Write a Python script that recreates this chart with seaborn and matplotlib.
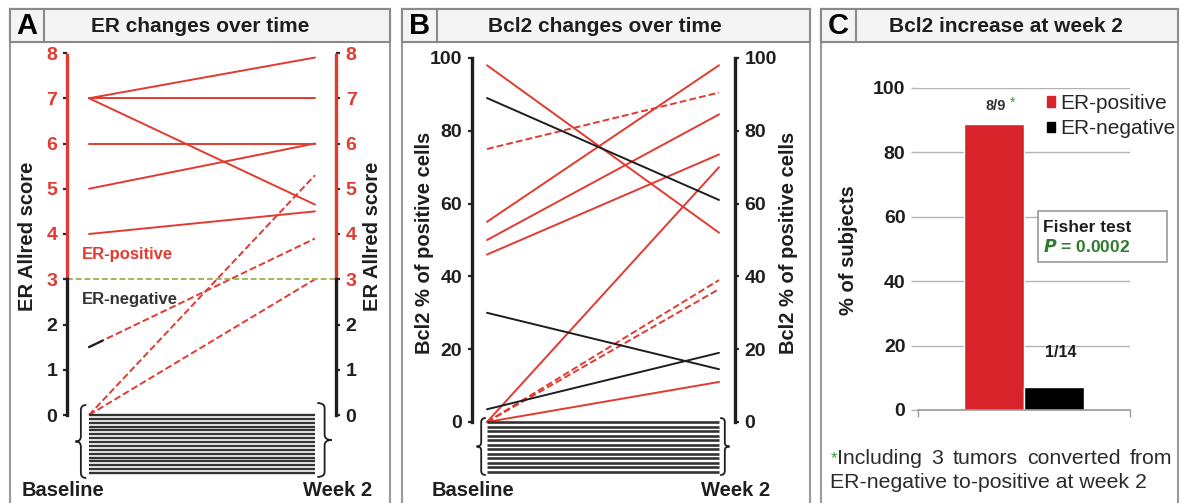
import numpy as np
import pandas as pd
import seaborn as sns
import matplotlib.pyplot as plt
from matplotlib.patches import Rectangle, Patch, PathPatch
from matplotlib.path import Path

# <-----------------------------------------------------------------------------> datos
times = [0, 1]  # Baseline, Week 2

# panel A: ER Allred score
er_pos_base = [7, 7, 7, 6, 5, 4]
er_pos_wk2 = [7.9, 7, 4.65, 6, 6, 4.5]
er_conv_base = [0, 1.5, 0]
er_conv_wk2 = [5.3, 3.9, 3.0]
n_er_zero = 16

# panel B: Bcl2 % positive cells
bcl_pos_base = [98, 55, 50, 46, 0, 0]
bcl_pos_wk2 = [52, 98, 84.5, 73.5, 70, 11]
bcl_conv_base = [75, 0, 0]
bcl_conv_wk2 = [90.5, 39, 36.5]
bcl_neg_base = [89, 30, 3.5]
bcl_neg_wk2 = [61, 14.5, 19]
n_bcl_zero = 12

# panel C
status = ['ER-positive', 'ER-negative']
pct_increase = [88.9, 7.1]
frac_labels = ['8/9', '1/14']

RED = '#e23a30'
BAR_RED = '#d9232a'
GREEN = '#2f7a2f'
DARK = '#1e1e1e'
W, H = 1180, 503

sns.set_theme(style='ticks')
plt.rcParams['font.family'] = ['Liberation Sans', 'DejaVu Sans']

fig = plt.figure(figsize=(W / 100, H / 100), dpi=100)


def axes_px(x0, y0, x1, y1):
    return fig.add_axes([x0 / W, 1 - y1 / H, (x1 - x0) / W, (y1 - y0) / H])


def ftext(x, y, s, **kw):
    return fig.text(x / W, 1 - y / H, s, **kw)


def frect(x0, y0, x1, y1, **kw):
    r = Rectangle((x0 / W, 1 - y1 / H), (x1 - x0) / W, (y1 - y0) / H,
                  transform=fig.transFigure, **kw)
    fig.add_artist(r)
    return r


def brace(ax, x_back, x_tip, y_bot, y_top):
    ym = (y_bot + y_top) / 2
    xm = (x_back + x_tip) / 2
    dy = (y_top - y_bot) * 0.07
    verts = [(x_back, y_top), (xm, y_top), (xm, y_top - dy),
             (xm, ym + dy), (xm, ym), (x_tip, ym),
             (xm, ym), (xm, ym - dy),
             (xm, y_bot + dy), (xm, y_bot), (x_back, y_bot)]
    codes = [Path.MOVETO, Path.CURVE3, Path.CURVE3, Path.LINETO,
             Path.CURVE3, Path.CURVE3, Path.CURVE3, Path.CURVE3,
             Path.LINETO, Path.CURVE3, Path.CURVE3]
    ax.add_patch(PathPatch(Path(verts, codes), fc='none', ec=DARK, lw=1.3, clip_on=False))


def long_df(groups):
    rows = []
    sid = 0
    for name, base, wk2 in groups:
        for b, w in zip(base, wk2):
            rows.append((sid, times[0], b, name))
            rows.append((sid, times[1], w, name))
            sid += 1
    return pd.DataFrame(rows, columns=['subject', 'time', 'value', 'group'])


# <-----------------------------------------------------------------------------> marcos de paneles
panels = [(10, 390, 'A', 'ER changes over time', 200, 44),
          (402, 810, 'B', 'Bcl2 changes over time', 605, 437),
          (821, 1178, 'C', 'Bcl2 increase at week 2', 1006, 856)]
for x0, x1, letter, title, tx, lx in panels:
    frect(x0, 9, x1, 510, fc='white', ec='#9a9a9a', lw=1.5, zorder=0)
    frect(x0, 9, x1, 42, fc='#f4f4f4', ec='#8a8a8a', lw=1.5, zorder=0.5)
    frect(x0, 9, lx, 42, fc='#f4f4f4', ec='#8a8a8a', lw=1.5, zorder=0.6)
    ftext((x0 + lx) / 2, 26, letter, ha='center', va='center', fontsize=21, fontweight='bold', color='black')
    ftext(tx, 27, title, ha='center', va='center', fontsize=15, fontweight='bold', color=DARK)


def style_pair_axis(ax, ticks, colors):
    sns.despine(ax=ax, top=True, bottom=True, left=False, right=False)
    ax.set_xticks([])
    ax.set_yticks(ticks)
    ax.tick_params(axis='y', left=True, right=True, labelleft=True, labelright=True,
                   direction='out', length=3, width=1.6, pad=4, labelsize=14)
    for side in ['left', 'right']:
        ax.spines[side].set_linewidth(2.4)
        ax.spines[side].set_color(DARK)
    for t, c in zip(ax.yaxis.get_major_ticks(), colors):
        for lab in (t.label1, t.label2):
            lab.set_color(c)
            lab.set_fontweight('bold')
        t.tick1line.set_color(c)
        t.tick2line.set_color(c)
    ax.set_facecolor('none')


# <-----------------------------------------------------------------------------> panel A
axa = axes_px(67, 53, 336, 480)
unit_a = (415 - 53) / 8
df_a = long_df([('pos', er_pos_base, er_pos_wk2), ('conv', er_conv_base, er_conv_wk2)])
sns.lineplot(data=df_a, x='time', y='value', units='subject', estimator=None,
             hue='group', style='group', palette={'pos': RED, 'conv': RED},
             dashes={'pos': '', 'conv': (3.5, 1.6)}, lw=1.4, legend=False, ax=axa)
# short black start of the converted case that began ER-negative above 0
for b, w in zip(er_conv_base, er_conv_wk2):
    if b > 0:
        xs = np.array([0, 0.06])
        axa.plot(xs, np.interp(xs, times, [b, w]), color=DARK, lw=1.6)
axa.hlines(np.linspace(0, -58 / unit_a, n_er_zero), times[0], times[1], color='#333333', lw=1.7)
axa.axhline(3, color='#a9b25e', ls='--', lw=1.4, dashes=(3, 1.5))
axa.set_xlim(-22 / 226, 1 + 21 / 226)
axa.set_ylim(-(480 - 415) / unit_a, 8)
er_ticks = list(range(9))
style_pair_axis(axa, er_ticks, [DARK if v < 3 else RED for v in er_ticks])
axa.spines['left'].set_bounds(0, 3)
axa.spines['right'].set_bounds(0, 3)
for xa in (0, 1):
    axa.plot([xa, xa], [3, 8], color=RED, lw=2.4, transform=axa.get_yaxis_transform(),
             clip_on=False, solid_capstyle='butt')
axa.set_xlabel('')
axa.set_ylabel('')
brace(axa, -0.012, -0.06, -(478 - 415) / unit_a, (415 - 405) / unit_a)
brace(axa, 1.01, 1.075, -(477 - 415) / unit_a, (415 - 403) / unit_a)
axa.text(-0.03, 3.55, 'ER-positive', color=RED, fontsize=12, fontweight='bold', va='center')
axa.text(-0.03, 2.55, 'ER-negative', color='#333333', fontsize=12, fontweight='bold', va='center')
ftext(28, 236, 'ER Allred score', rotation=90, ha='center', va='center', fontsize=14.5, fontweight='bold', color=DARK)
ftext(372, 236, 'ER Allred score', rotation=90, ha='center', va='center', fontsize=14.5, fontweight='bold', color=DARK)
ftext(22, 490, 'Baseline', ha='left', va='center', fontsize=14.5, fontweight='bold', color=DARK)
ftext(372, 490, 'Week 2', ha='right', va='center', fontsize=14.5, fontweight='bold', color=DARK)

# <-----------------------------------------------------------------------------> panel B
axb = axes_px(472, 58, 735, 480)
unit_b = (422 - 58) / 100
df_b = long_df([('pos', bcl_pos_base, bcl_pos_wk2), ('conv', bcl_conv_base, bcl_conv_wk2),
                ('neg', bcl_neg_base, bcl_neg_wk2)])
sns.lineplot(data=df_b, x='time', y='value', units='subject', estimator=None,
             hue='group', style='group', palette={'pos': RED, 'conv': RED, 'neg': DARK},
             dashes={'pos': '', 'conv': (3.5, 1.6), 'neg': ''}, lw=1.4, legend=False, ax=axb)
axb.hlines(np.linspace(0, -50 / unit_b, n_bcl_zero), times[0], times[1], color='#333333', lw=1.9)
axb.set_xlim(-15 / 232, 1 + 16 / 232)
axb.set_ylim(-(480 - 422) / unit_b, 100)
bcl_ticks = [0, 20, 40, 60, 80, 100]
style_pair_axis(axb, bcl_ticks, [DARK] * len(bcl_ticks))
axb.spines['left'].set_bounds(0, 100)
axb.spines['right'].set_bounds(0, 100)
axb.set_xlabel('')
axb.set_ylabel('')
brace(axb, -0.005, -0.045, -(475 - 422) / unit_b, (422 - 418) / unit_b)
brace(axb, 1.005, 1.045, -(475 - 422) / unit_b, (422 - 418) / unit_b)
ftext(425, 243, 'Bcl2 % of positive cells', rotation=90, ha='center', va='center', fontsize=14.5, fontweight='bold', color=DARK)
ftext(788, 243, 'Bcl2 % of positive cells', rotation=90, ha='center', va='center', fontsize=14.5, fontweight='bold', color=DARK)
ftext(432, 490, 'Baseline', ha='left', va='center', fontsize=14.5, fontweight='bold', color=DARK)
ftext(770, 490, 'Week 2', ha='right', va='center', fontsize=14.5, fontweight='bold', color=DARK)

# <-----------------------------------------------------------------------------> panel C
axc = axes_px(918, 88, 1130, 410)
df_c = pd.DataFrame({'time': ['Week 2'] * 2, 'status': status, 'pct': pct_increase})
sns.barplot(data=df_c, x='time', y='pct', hue='status', palette=[BAR_RED, 'black'],
            width=0.57, saturation=1, legend=False, ax=axc)
axc.set_xlim(-0.5, 0.5)
axc.set_ylim(0, 100)
axc.set_yticks([0, 20, 40, 60, 80, 100])
axc.set_xticks([-0.5, 0.5])
axc.set_xticklabels([])
axc.yaxis.grid(True, color='#b3b3b3', lw=1)
axc.set_axisbelow(True)
sns.despine(ax=axc, left=True)
axc.spines['bottom'].set_color('#999999')
axc.spines['bottom'].set_linewidth(1.2)
axc.tick_params(axis='y', length=5, color='#b3b3b3', width=1, pad=4, labelsize=14)
axc.tick_params(axis='x', length=5, color='#999999', width=1)
for lab in axc.get_yticklabels():
    lab.set_fontweight('bold')
    lab.set_color(DARK)
axc.set_xlabel('')
axc.set_ylabel('')
bars = axc.patches
lab_x = bars[0].get_x() + bars[0].get_width() / 2 + 0.01
axc.text(lab_x, 94.5, frac_labels[0], ha='center', va='center', fontsize=10.5,
         fontweight='bold', color='#333333')
axc.text(lab_x + 0.065, 95.5, '*', ha='left', va='center', fontsize=10, color='#3a9a3a')
axc.text(bars[1].get_x() + bars[1].get_width() / 2 + 0.03, 18, frac_labels[1],
         ha='center', va='center', fontsize=11.5, fontweight='bold', color=DARK)
handles = [Patch(color=BAR_RED, label=status[0]), Patch(color='black', label=status[1])]
fig.legend(handles=handles, loc='upper left', bbox_to_anchor=(1047 / W, 1 - 94 / H),
           frameon=False, fontsize=15, handlelength=0.4, handleheight=0.4,
           handletextpad=0.25, labelspacing=0.3, borderpad=0, borderaxespad=0)
frect(1038, 211, 1167, 262, fc='white', ec='#9a9a9a', lw=1.2, zorder=3)
ftext(1043, 227, 'Fisher test', ha='left', va='center', fontsize=12.5, fontweight='bold', color=DARK, zorder=4)
ftext(1043, 246, r'$\bfit{P}$' + ' = 0.0002', ha='left', va='center', fontsize=12.5,
      fontweight='bold', color=GREEN, zorder=4)
ftext(848, 250, '% of subjects', rotation=90, ha='center', va='center', fontsize=14.5, fontweight='bold', color=DARK)

# nota al pie (primera linea justificada entre 837 y 1172 px)
ftext(831, 459, '*', ha='left', va='center', fontsize=12, color='#3a9a3a')
words = ['Including', '3', 'tumors', 'converted', 'from']
renderer = fig.canvas.get_renderer()
word_txt = [ftext(0, 459, w, ha='left', va='center', fontsize=15.3, color='#2a2a2a') for w in words]
widths = [t.get_window_extent(renderer).width for t in word_txt]
gap = (1172 - 837 - sum(widths)) / (len(words) - 1)
cur = 837
for t, wd in zip(word_txt, widths):
    t.set_x(cur / W)
    cur += wd + gap
ftext(830, 482, 'ER-negative to-positive at week 2', ha='left', va='center', fontsize=15.3, color='#2a2a2a')

fig.savefig('out.png', dpi=100)
